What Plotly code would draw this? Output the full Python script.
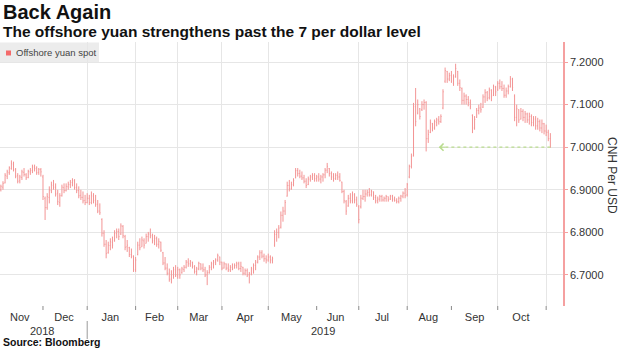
import pandas as pd
import plotly.graph_objects as go

# Daily USD/CNH (offshore yuan) bars, one value per weekday
FIRST_DAY = "2018-11-05"
LAST_DAY = "2019-11-05"

open_px = [
    6.900, 6.906, 6.916, 6.932, 6.940, 6.950, 6.960, 6.948, 6.933, 6.921, 6.929, 6.941, 6.935, 6.929, 6.942, 6.945, 6.953, 6.951, 6.941, 6.947,
    6.930, 6.880, 6.858, 6.882, 6.898, 6.910, 6.906, 6.892, 6.870, 6.886, 6.905, 6.898, 6.907, 6.912, 6.917, 6.921, 6.906, 6.898, 6.887, 6.882, 6.875,
    6.870, 6.880, 6.870, 6.885, 6.876, 6.866, 6.850, 6.830, 6.798, 6.772, 6.752, 6.769, 6.777, 6.780, 6.797, 6.802, 6.796, 6.814, 6.790, 6.766, 6.764, 6.748, 6.744,
    6.712, 6.748, 6.770, 6.766, 6.780, 6.774, 6.790, 6.796, 6.792, 6.780, 6.785, 6.772, 6.777, 6.752, 6.728, 6.716, 6.704, 6.690, 6.700, 6.712,
    6.700, 6.712, 6.705, 6.713, 6.718, 6.730, 6.726, 6.730, 6.720, 6.708, 6.714, 6.726, 6.716, 6.712, 6.700, 6.705, 6.718, 6.726, 6.730, 6.735, 6.742,
    6.730, 6.716, 6.726, 6.716, 6.712, 6.718, 6.716, 6.722, 6.726, 6.715, 6.718, 6.704, 6.710, 6.700, 6.702, 6.714, 6.722, 6.730, 6.742, 6.752, 6.744, 6.738,
    6.735, 6.742, 6.735, 6.770, 6.795, 6.800, 6.812, 6.840, 6.850, 6.885, 6.910, 6.902, 6.912, 6.928, 6.945, 6.938, 6.932, 6.928, 6.920, 6.912, 6.925, 6.930, 6.934,
    6.926, 6.930, 6.925, 6.930, 6.935, 6.946, 6.950, 6.938, 6.930, 6.926, 6.934, 6.930, 6.918, 6.896, 6.872, 6.862, 6.880, 6.874, 6.888, 6.876,
    6.860, 6.860, 6.880, 6.884, 6.890, 6.894, 6.888, 6.895, 6.882, 6.874, 6.878, 6.884, 6.876, 6.880, 6.884, 6.878, 6.885, 6.878, 6.875, 6.872, 6.880, 6.885, 6.892,
    6.888, 6.930, 6.955, 6.980, 7.095, 7.080, 7.090, 7.088, 7.100, 7.105, 7.020, 7.035, 7.055, 7.045, 7.058, 7.064, 7.060, 7.092, 7.155, 7.178, 7.160, 7.168,
    7.150, 7.166, 7.178, 7.150, 7.138, 7.110, 7.120, 7.112, 7.104, 7.075, 7.045, 7.070, 7.086, 7.092, 7.094, 7.118, 7.128, 7.116, 7.134, 7.122, 7.140,
    7.135, 7.150, 7.142, 7.138, 7.122, 7.132, 7.142, 7.160, 7.120, 7.070, 7.088, 7.066, 7.084, 7.070, 7.078, 7.064, 7.072, 7.058, 7.066, 7.050, 7.060, 7.045, 7.055,
    7.038, 7.035, 7.020,
]

high_px = [
    6.912, 6.920, 6.939, 6.947, 6.955, 6.969, 6.966, 6.951, 6.939, 6.935, 6.947, 6.951, 6.939, 6.947, 6.951, 6.959, 6.959, 6.955, 6.951, 6.951,
    6.935, 6.884, 6.892, 6.908, 6.919, 6.923, 6.915, 6.900, 6.892, 6.912, 6.915, 6.915, 6.919, 6.923, 6.927, 6.925, 6.915, 6.908, 6.900, 6.896, 6.888,
    6.892, 6.888, 6.896, 6.892, 6.888, 6.876, 6.868, 6.833, 6.805, 6.782, 6.778, 6.786, 6.790, 6.805, 6.809, 6.809, 6.821, 6.817, 6.794, 6.782, 6.766, 6.762, 6.746,
    6.742, 6.778, 6.786, 6.790, 6.786, 6.797, 6.801, 6.809, 6.797, 6.794, 6.790, 6.786, 6.778, 6.754, 6.742, 6.727, 6.715, 6.711, 6.719, 6.723,
    6.719, 6.715, 6.719, 6.723, 6.735, 6.739, 6.735, 6.731, 6.723, 6.719, 6.731, 6.727, 6.727, 6.719, 6.711, 6.723, 6.731, 6.735, 6.739, 6.750, 6.743,
    6.731, 6.731, 6.727, 6.727, 6.723, 6.727, 6.727, 6.731, 6.731, 6.731, 6.719, 6.715, 6.715, 6.707, 6.719, 6.727, 6.735, 6.746, 6.758, 6.758, 6.750, 6.746,
    6.750, 6.746, 6.743, 6.805, 6.809, 6.817, 6.849, 6.860, 6.876, 6.919, 6.923, 6.919, 6.927, 6.951, 6.951, 6.947, 6.943, 6.935, 6.927, 6.931, 6.935, 6.939, 6.939,
    6.935, 6.939, 6.935, 6.939, 6.951, 6.963, 6.951, 6.943, 6.939, 6.939, 6.943, 6.939, 6.919, 6.900, 6.876, 6.888, 6.892, 6.896, 6.892, 6.884,
    6.864, 6.888, 6.900, 6.900, 6.900, 6.904, 6.900, 6.896, 6.888, 6.884, 6.888, 6.888, 6.884, 6.888, 6.884, 6.888, 6.888, 6.884, 6.880, 6.884, 6.888, 6.896, 6.904,
    6.916, 6.959, 6.985, 7.104, 7.139, 7.112, 7.092, 7.108, 7.112, 7.108, 7.041, 7.065, 7.057, 7.065, 7.069, 7.073, 7.077, 7.136, 7.187, 7.179, 7.175, 7.179,
    7.171, 7.196, 7.179, 7.159, 7.140, 7.128, 7.124, 7.120, 7.112, 7.077, 7.073, 7.092, 7.100, 7.104, 7.124, 7.136, 7.132, 7.140, 7.136, 7.147, 7.144,
    7.155, 7.159, 7.155, 7.147, 7.140, 7.147, 7.167, 7.163, 7.124, 7.100, 7.089, 7.092, 7.089, 7.085, 7.081, 7.081, 7.077, 7.073, 7.073, 7.069, 7.065, 7.065, 7.057,
    7.053, 7.041, 7.033,
]

low_px = [
    6.896, 6.900, 6.915, 6.925, 6.935, 6.947, 6.943, 6.927, 6.915, 6.915, 6.923, 6.931, 6.923, 6.927, 6.935, 6.939, 6.943, 6.935, 6.935, 6.931,
    6.876, 6.829, 6.853, 6.868, 6.892, 6.900, 6.884, 6.864, 6.860, 6.884, 6.892, 6.896, 6.900, 6.904, 6.908, 6.900, 6.892, 6.880, 6.876, 6.868, 6.864,
    6.868, 6.864, 6.866, 6.868, 6.860, 6.845, 6.841, 6.790, 6.766, 6.739, 6.750, 6.758, 6.762, 6.778, 6.786, 6.782, 6.794, 6.786, 6.758, 6.754, 6.742, 6.739, 6.707,
    6.707, 6.746, 6.758, 6.766, 6.762, 6.774, 6.778, 6.786, 6.774, 6.770, 6.766, 6.762, 6.754, 6.723, 6.711, 6.699, 6.684, 6.680, 6.691, 6.695,
    6.691, 6.691, 6.703, 6.707, 6.715, 6.719, 6.719, 6.715, 6.703, 6.699, 6.711, 6.711, 6.707, 6.695, 6.676, 6.703, 6.711, 6.715, 6.723, 6.731, 6.723,
    6.711, 6.715, 6.711, 6.707, 6.707, 6.711, 6.715, 6.715, 6.711, 6.707, 6.699, 6.699, 6.695, 6.680, 6.699, 6.703, 6.711, 6.727, 6.735, 6.739, 6.731, 6.727,
    6.731, 6.727, 6.727, 6.766, 6.778, 6.786, 6.809, 6.825, 6.841, 6.884, 6.896, 6.900, 6.908, 6.927, 6.931, 6.927, 6.923, 6.915, 6.904, 6.911, 6.919, 6.923, 6.919,
    6.919, 6.919, 6.915, 6.919, 6.927, 6.939, 6.931, 6.923, 6.919, 6.923, 6.923, 6.919, 6.892, 6.868, 6.841, 6.860, 6.868, 6.868, 6.868, 6.860,
    6.821, 6.856, 6.876, 6.872, 6.884, 6.884, 6.884, 6.876, 6.868, 6.868, 6.872, 6.872, 6.872, 6.872, 6.872, 6.876, 6.872, 6.872, 6.868, 6.868, 6.872, 6.880, 6.880,
    6.884, 6.927, 6.950, 6.978, 7.049, 7.077, 7.065, 7.085, 7.088, 6.990, 7.010, 7.033, 7.037, 7.041, 7.049, 7.053, 7.057, 7.089, 7.151, 7.151, 7.155, 7.151,
    7.144, 7.163, 7.144, 7.132, 7.100, 7.100, 7.100, 7.096, 7.089, 7.033, 7.041, 7.069, 7.077, 7.081, 7.092, 7.104, 7.108, 7.112, 7.108, 7.120, 7.120,
    7.132, 7.136, 7.132, 7.116, 7.116, 7.124, 7.140, 7.132, 7.061, 7.049, 7.057, 7.065, 7.061, 7.057, 7.057, 7.053, 7.049, 7.049, 7.041, 7.041, 7.037, 7.033, 7.030,
    7.026, 7.014, 6.999,
]

close_px = [
    6.908, 6.915, 6.934, 6.942, 6.952, 6.962, 6.947, 6.932, 6.920, 6.930, 6.942, 6.936, 6.928, 6.943, 6.946, 6.954, 6.950, 6.940, 6.948, 6.942,
    6.884, 6.858, 6.884, 6.900, 6.912, 6.906, 6.890, 6.872, 6.886, 6.906, 6.898, 6.908, 6.913, 6.918, 6.922, 6.905, 6.898, 6.886, 6.882, 6.874, 6.870,
    6.880, 6.870, 6.886, 6.875, 6.866, 6.850, 6.846, 6.798, 6.772, 6.750, 6.770, 6.778, 6.770, 6.798, 6.802, 6.790, 6.815, 6.792, 6.765, 6.770, 6.748, 6.744, 6.712,
    6.735, 6.770, 6.764, 6.782, 6.770, 6.790, 6.796, 6.792, 6.780, 6.786, 6.772, 6.778, 6.758, 6.728, 6.716, 6.704, 6.690, 6.700, 6.712, 6.700,
    6.712, 6.700, 6.714, 6.718, 6.730, 6.726, 6.732, 6.720, 6.708, 6.714, 6.727, 6.716, 6.712, 6.700, 6.705, 6.718, 6.726, 6.730, 6.735, 6.745, 6.730,
    6.716, 6.726, 6.716, 6.712, 6.718, 6.714, 6.722, 6.726, 6.715, 6.720, 6.704, 6.710, 6.700, 6.702, 6.714, 6.722, 6.730, 6.742, 6.752, 6.744, 6.738, 6.735,
    6.742, 6.735, 6.738, 6.795, 6.800, 6.810, 6.840, 6.850, 6.870, 6.910, 6.902, 6.912, 6.922, 6.945, 6.938, 6.932, 6.928, 6.920, 6.910, 6.925, 6.930, 6.934, 6.926,
    6.930, 6.925, 6.930, 6.935, 6.946, 6.955, 6.938, 6.930, 6.926, 6.934, 6.930, 6.922, 6.896, 6.874, 6.850, 6.880, 6.874, 6.888, 6.876, 6.866,
    6.830, 6.880, 6.884, 6.890, 6.894, 6.888, 6.896, 6.882, 6.874, 6.878, 6.884, 6.876, 6.880, 6.884, 6.876, 6.885, 6.878, 6.875, 6.872, 6.880, 6.885, 6.892, 6.886,
    6.912, 6.955, 6.978, 7.095, 7.060, 7.100, 7.072, 7.100, 7.105, 7.020, 7.030, 7.058, 7.045, 7.060, 7.064, 7.060, 7.072, 7.130, 7.180, 7.160, 7.168, 7.155,
    7.165, 7.185, 7.150, 7.140, 7.110, 7.120, 7.112, 7.104, 7.095, 7.045, 7.065, 7.086, 7.092, 7.088, 7.118, 7.128, 7.115, 7.134, 7.120, 7.142, 7.130,
    7.150, 7.142, 7.138, 7.122, 7.132, 7.142, 7.160, 7.140, 7.070, 7.090, 7.064, 7.084, 7.070, 7.078, 7.064, 7.072, 7.058, 7.066, 7.050, 7.060, 7.045, 7.055, 7.038,
    7.035, 7.020, 7.000,
]

# month boundaries (ticks and grid) and month names centred inside each month
MONTH_STARTS = [
    "2018-12-01", "2019-01-01", "2019-02-01", "2019-03-01", "2019-04-01", "2019-05-01",
    "2019-06-01", "2019-07-01", "2019-08-01", "2019-09-01", "2019-10-01", "2019-11-01",
]
MONTH_MIDS = [
    "2018-11-16", "2018-12-17", "2019-01-16", "2019-02-14", "2019-03-15", "2019-04-16",
    "2019-05-16", "2019-06-14", "2019-07-16", "2019-08-15", "2019-09-16", "2019-10-16",
]
MONTH_LABELS = ["Nov", "Dec", "Jan", "Feb", "Mar", "Apr", "May", "Jun", "Jul", "Aug", "Sep", "Oct"]

YEAR_LABELS = ["2018", "2019"]
YEAR_SPLIT = "2019-01-01"

# 7-per-dollar marker: arrow from the latest bar back to mid-August
LEVEL = 7.0
ARROW_FROM = LAST_DAY
ARROW_TO = "2019-08-22"

trade_days = pd.bdate_range(FIRST_DAY, LAST_DAY)

BAR_COLOR = "#f39494"
GRID = "#e6e6e6"
AXIS_RED = "#f5a0a0"
ARROW_GREEN = "#b9dc8e"
TEXT = "#333333"
FONT = "Liberation Sans, Arial, sans-serif"

# plotting area in pixels (used to place the free-standing text)
W, H = 620, 348
L, R, T, B = 0, 57, 42, 42
AREA_W = W - L - R
AREA_H = H - T - B


def fx(px):
    return (px - L) / AREA_W


def fy(py):
    return (H - B - py) / AREA_H


fig = go.Figure(
    go.Ohlc(
        x=trade_days,
        open=open_px,
        high=high_px,
        low=low_px,
        close=close_px,
        increasing=dict(line=dict(color=BAR_COLOR, width=1)),
        decreasing=dict(line=dict(color=BAR_COLOR, width=1)),
        tickwidth=0.3,
        name="Offshore yuan spot",
        hoverinfo="x+y",
    )
)

# dotted level line with an open arrow head on the left
fig.add_shape(
    type="line", xref="x", yref="y",
    x0=ARROW_FROM, x1=ARROW_TO, y0=LEVEL, y1=LEVEL,
    line=dict(color=ARROW_GREEN, width=1.2, dash="dot"),
)
fig.add_annotation(
    x=ARROW_TO, y=LEVEL, xref="x", yref="y", text="",
    showarrow=True, ax=8, ay=0, arrowhead=4, arrowsize=1.4, arrowwidth=1,
    arrowcolor=ARROW_GREEN, standoff=0,
)

# short tick marks under each month boundary
for start in MONTH_STARTS:
    fig.add_shape(type="line", xref="x", yref="paper",
                  x0=start, x1=start, y0=fy(310), y1=fy(306),
                  line=dict(color="#8a8a8a", width=1))

# legend chip
fig.add_shape(type="rect", xref="paper", yref="paper",
              x0=fx(0), x1=fx(99), y0=fy(63), y1=fy(42.5),
              fillcolor="#ececec", line=dict(width=0), layer="below")
fig.add_shape(type="rect", xref="paper", yref="paper",
              x0=fx(6), x1=fx(11), y0=fy(55.5), y1=fy(50.5),
              fillcolor="#f46a6a", line=dict(width=0))
fig.add_annotation(x=fx(13.5), y=fy(53), xref="paper", yref="paper",
                   text="Offshore yuan spot", showarrow=False,
                   xanchor="left", yanchor="middle",
                   font=dict(family=FONT, size=9.5, color="#444444"))

# title block and source
fig.add_annotation(x=fx(1), y=fy(12.5), xref="paper", yref="paper",
                   text="<b>Back Again</b>", showarrow=False,
                   xanchor="left", yanchor="middle",
                   font=dict(family=FONT, size=20, color="#111111"))
fig.add_annotation(x=fx(1), y=fy(31.5), xref="paper", yref="paper",
                   text="<b>The offshore yuan strengthens past the 7 per dollar level</b>",
                   showarrow=False, xanchor="left", yanchor="middle",
                   font=dict(family=FONT, size=15.5, color="#111111"))
fig.add_annotation(x=fx(1), y=fy(342), xref="paper", yref="paper",
                   text="<b>Source: Bloomberg</b>", showarrow=False,
                   xanchor="left", yanchor="middle",
                   font=dict(family=FONT, size=10.5, color="#111111"))

# axis title on the right, reading downwards
fig.add_annotation(x=fx(612), y=fy(175), xref="paper", yref="paper",
                   text="CNH Per USD", showarrow=False, textangle=90,
                   xanchor="center", yanchor="middle",
                   font=dict(family=FONT, size=12, color=TEXT))

# year row under the month labels
for label, xpix in zip(YEAR_LABELS, [42, 323]):
    fig.add_annotation(x=fx(xpix), y=fy(331), xref="paper", yref="paper",
                       text=label, showarrow=False,
                       xanchor="center", yanchor="middle",
                       font=dict(family=FONT, size=11, color=TEXT))
fig.add_shape(type="line", xref="x", yref="paper",
              x0=YEAR_SPLIT, x1=YEAR_SPLIT, y0=fy(339), y1=fy(321),
              line=dict(color="#9a9a9a", width=1))

fig.update_layout(
    width=W, height=H,
    margin=dict(l=L, r=R, t=T, b=B, pad=0),
    paper_bgcolor="white", plot_bgcolor="white",
    font=dict(family=FONT, size=11, color=TEXT),
    showlegend=False,
    xaxis=dict(
        type="date",
        range=["2018-11-02 14:00", "2019-11-13"],
        rangebreaks=[dict(bounds=["sat", "mon"])],
        rangeslider=dict(visible=False),
        tickmode="array", tickvals=MONTH_MIDS, ticktext=MONTH_LABELS,
        ticks="outside", ticklen=1, tickcolor="rgba(0,0,0,0)", showgrid=False,
        minor=dict(tickmode="array", tickvals=MONTH_STARTS,
                   showgrid=True, gridcolor=GRID, gridwidth=1),
        showline=False, zeroline=False,
        tickfont=dict(family=FONT, size=11, color=TEXT),
    ),
    yaxis=dict(
        side="right",
        range=[6.627, 7.247],
        tick0=6.7, dtick=0.1, tickformat=".4f",
        showgrid=True, gridcolor=GRID, gridwidth=1,
        showline=True, linecolor=AXIS_RED, linewidth=1.5,
        ticks="outside", ticklen=3, tickcolor=AXIS_RED,
        zeroline=False,
        tickfont=dict(family=FONT, size=11, color=TEXT),
    ),
)

fig.write_html("out.html")
